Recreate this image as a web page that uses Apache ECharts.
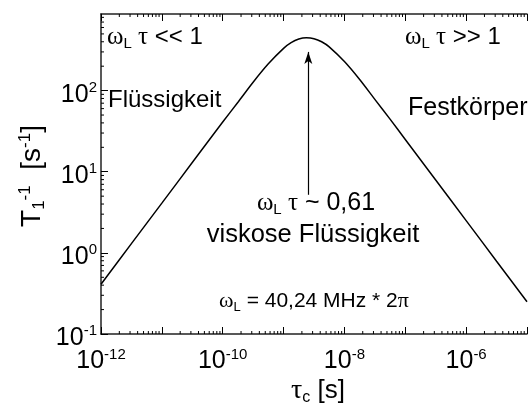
<!DOCTYPE html>
<html>
<head>
<meta charset="utf-8">
<script src="https://cdn.jsdelivr.net/npm/echarts@6/dist/echarts.min.js"></script>
<style>
  html, body { margin: 0; padding: 0; background: #fff; overflow: hidden; }
  #chart { width: 530px; height: 405px; }
</style>
</head>
<body>
<div id="chart"></div>
<script>
// Correlation time tau_c [s]
const tauC = [1e-12, 3.16e-12, 1e-11, 3.16e-11, 1e-10, 1.78e-10, 3.16e-10, 5.62e-10,
              1e-9, 1.33e-9, 1.78e-9, 2.37e-9, 3.16e-9, 4.22e-9, 5.62e-9,
              1e-8, 1.78e-8, 3.16e-8, 5.62e-8, 1e-7, 3.16e-7, 1e-6, 3.16e-6, 1e-5];
// Spin-lattice relaxation rate T1^-1 [s^-1]
const relaxRate = [0.41, 1.3, 4.1, 13, 41, 72, 127, 214,
                   332, 390, 432, 448, 437, 400, 346,
                   228, 137, 78, 44.5, 25, 7.9, 2.5, 0.79, 0.25];
// Arrow marking the rate maximum (omega_L * tau ~ 0.61)
const arrowTau = 2.55e-9;
const arrowRange = [5.2, 300];
// Decade exponents that carry a tick label
const xLabelExps = [-12, -10, -8, -6];
const yLabelExps = [-1, 0, 1, 2];

const X_MIN = 1e-12, X_MAX = 1e-5;
const Y_MIN = 0.1, Y_MAX = 880;

// Minor tick positions: 2..9 times each decade
const minorX = [];
for (let e = -12; e < -5; e++) for (let m = 2; m <= 9; m++) minorX.push(m * Math.pow(10, e));
const minorY = [];
for (let e = -1; e < 3; e++) for (let m = 2; m <= 9; m++) {
  const v = m * Math.pow(10, e);
  if (v < Y_MAX) minorY.push(v);
}

const chart = echarts.init(document.getElementById('chart'));

const SANS = 'Liberation Sans, Arial, sans-serif';
const SERIF = 'Liberation Serif, Times New Roman, serif';
const INK = '#000';

function powLabel(exps) {
  return function (v) {
    const e = Math.round(Math.log10(v));
    if (Math.abs(Math.log10(v) - e) > 1e-6) return '';
    if (exps.indexOf(e) < 0) return '';
    return '{b|10}{s|' + e + '}';
  };
}
const tickRich = {
  b: { fontFamily: SANS, fontSize: 25, color: INK },
  s: { fontFamily: SANS, fontSize: 15, color: INK, padding: [0, 0, 14, 0] }
};

const axisLineStyle = { color: '#222', width: 1.5 };
const majorTick = { show: true, inside: true, length: 7, lineStyle: { color: INK, width: 1 } };

function tickLine(x1, y1, x2, y2) {
  return { type: 'line', shape: { x1, y1, x2, y2 }, style: { stroke: INK, lineWidth: 1 } };
}

chart.setOption({
  animation: false,
  grid: { left: 101, top: 14, right: -7.3, bottom: 71 },
  xAxis: [{
    type: 'log', min: X_MIN, max: X_MAX, splitNumber: 7,
    axisLine: { show: true, onZero: false, lineStyle: axisLineStyle },
    axisTick: majorTick,
    axisLabel: { formatter: powLabel(xLabelExps), margin: 13, rich: tickRich, showMinLabel: true },
    splitLine: { show: false }
  }, {
    type: 'log', min: X_MIN, max: X_MAX, splitNumber: 7, position: 'top',
    axisLine: { show: true, onZero: false, lineStyle: axisLineStyle },
    axisTick: majorTick,
    axisLabel: { show: false },
    splitLine: { show: false }
  }],
  yAxis: [{
    type: 'log', min: Y_MIN, max: Y_MAX, splitNumber: 4,
    axisLine: { show: true, onZero: false, lineStyle: axisLineStyle },
    axisTick: majorTick,
    axisLabel: { formatter: powLabel(yLabelExps), margin: 4, padding: [8, 0, 0, 0], rich: tickRich, showMaxLabel: false },
    splitLine: { show: false }
  }],
  series: [{
    type: 'line',
    data: tauC.map((t, i) => [t, relaxRate[i]]),
    showSymbol: false,
    smooth: 0.3,
    lineStyle: { color: INK, width: 1.5 },
    markLine: {
      silent: true,
      symbol: ['none', 'arrow'],
      symbolSize: [6, 12],
      label: { show: false },
      lineStyle: { color: INK, width: 1.2, type: 'solid' },
      data: [[{ coord: [arrowTau, arrowRange[0]] }, { coord: [arrowTau, arrowRange[1]] }]]
    }
  }, {
    // minor ticks on the bottom and top frame
    type: 'custom', silent: true, clip: false,
    data: minorX.map(v => [v, Y_MIN]),
    encode: { x: 0, y: 1 },
    renderItem: function (params, api) {
      const v = api.value(0);
      const b = api.coord([v, Y_MIN]);
      const t = api.coord([v, Y_MAX]);
      return { type: 'group', children: [tickLine(b[0], b[1], b[0], b[1] - 3), tickLine(t[0], t[1], t[0], t[1] + 3)] };
    }
  }, {
    // minor ticks on the left frame
    type: 'custom', silent: true, clip: false,
    data: minorY.map(v => [X_MIN, v]),
    encode: { x: 0, y: 1 },
    renderItem: function (params, api) {
      const v = api.value(1);
      const p = api.coord([X_MIN, v]);
      return tickLine(p[0], p[1], p[0] + 3, p[1]);
    }
  }],
  graphic: [
    {
      type: 'text', x: 32, y: 176, rotation: Math.PI / 2,
      style: {
        text: '{t|T}{sub|1}{sup|-1}{t|  [s}{sup|-1}{t|]}',
        align: 'center', verticalAlign: 'middle', fill: INK,
        rich: {
          t: { fontFamily: SANS, fontSize: 28, color: INK },
          sub: { fontFamily: SANS, fontSize: 17, color: INK, padding: [14, 0, 0, 0] },
          sup: { fontFamily: SANS, fontSize: 17, color: INK, padding: [0, 0, 14, 0] }
        }
      }
    },
    {
      type: 'text', x: 318, y: 391,
      style: {
        text: '{g|τ}{sub|c}{t| [s]}',
        align: 'center', verticalAlign: 'middle', fill: INK,
        rich: {
          g: { fontFamily: SERIF, fontSize: 28, color: INK },
          t: { fontFamily: SANS, fontSize: 26, color: INK },
          sub: { fontFamily: SANS, fontSize: 16, color: INK, padding: [14, 0, 0, 0] }
        }
      }
    },
    {
      type: 'text', x: 107, y: 37,
      style: {
        text: '{g|ω}{sub|L}{g| τ}{t| << 1}',
        align: 'left', verticalAlign: 'middle', fill: INK,
        rich: {
          g: { fontFamily: SERIF, fontSize: 25, color: INK },
          t: { fontFamily: SANS, fontSize: 24, color: INK },
          sub: { fontFamily: SANS, fontSize: 15, color: INK, padding: [14, 0, 0, 0] }
        }
      }
    },
    {
      type: 'text', x: 405, y: 37,
      style: {
        text: '{g|ω}{sub|L}{g| τ}{t| >> 1}',
        align: 'left', verticalAlign: 'middle', fill: INK,
        rich: {
          g: { fontFamily: SERIF, fontSize: 25, color: INK },
          t: { fontFamily: SANS, fontSize: 24, color: INK },
          sub: { fontFamily: SANS, fontSize: 15, color: INK, padding: [14, 0, 0, 0] }
        }
      }
    },
    {
      type: 'text', x: 108, y: 100,
      style: { text: 'Flüssigkeit', font: '24px ' + SANS, fill: INK, align: 'left', verticalAlign: 'middle' }
    },
    {
      type: 'text', x: 408, y: 108,
      style: { text: 'Festkörper', font: '25px ' + SANS, fill: INK, align: 'left', verticalAlign: 'middle' }
    },
    {
      type: 'text', x: 316, y: 203,
      style: {
        text: '{g|ω}{sub|L}{g| τ}{t| ~ 0,61}',
        align: 'center', verticalAlign: 'middle', fill: INK,
        rich: {
          g: { fontFamily: SERIF, fontSize: 25, color: INK },
          t: { fontFamily: SANS, fontSize: 25, color: INK },
          sub: { fontFamily: SANS, fontSize: 15, color: INK, padding: [14, 0, 0, 0] }
        }
      }
    },
    {
      type: 'text', x: 313, y: 235,
      style: { text: 'viskose Flüssigkeit', font: '25.5px ' + SANS, fill: INK, align: 'center', verticalAlign: 'middle' }
    },
    {
      type: 'text', x: 314, y: 301,
      style: {
        text: '{g|ω}{sub|L}{t| = 40,24 MHz * 2}{g|π}',
        align: 'center', verticalAlign: 'middle', fill: INK,
        rich: {
          g: { fontFamily: SERIF, fontSize: 22, color: INK },
          t: { fontFamily: SANS, fontSize: 21, color: INK },
          sub: { fontFamily: SANS, fontSize: 13, color: INK, padding: [12, 0, 0, 0] }
        }
      }
    }
  ]
});
</script>
</body>
</html>
